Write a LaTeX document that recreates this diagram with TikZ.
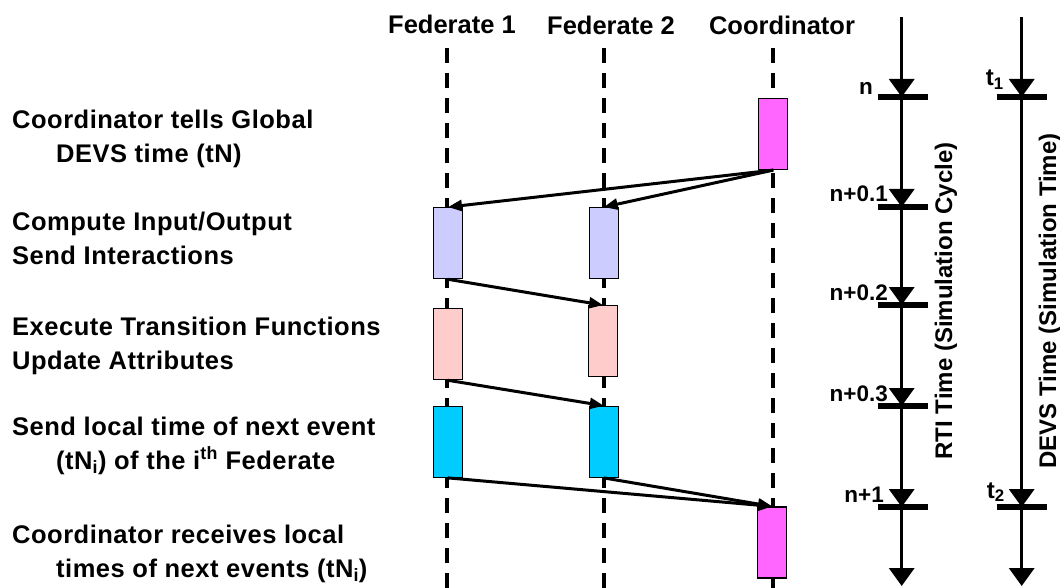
\documentclass[tikz,border=0pt]{standalone}
\usepackage{fontspec}
\setmainfont{Liberation Sans}
\newfontfamily\stepfont[LetterSpace=2.0]{Liberation Sans}
\usetikzlibrary{arrows.meta,positioning}

\definecolor{tellpink}{RGB}{255,102,255}
\definecolor{iolilac}{RGB}{204,204,255}
\definecolor{transrose}{RGB}{255,204,204}
\definecolor{nextcyan}{RGB}{0,204,255}

\tikzset{
  lifeline/.style={line width=4pt, dash pattern=on 15pt off 10pt},
  actbox/.style={draw, line width=1.2pt, minimum width=29pt, minimum height=71pt, inner sep=0pt},
  msg/.style={line width=3pt, -{Triangle[length=14pt,width=11pt]}},
  axisseg/.style={line width=3.5pt, -{Triangle[length=18pt,width=25pt]}},
  tickbar/.style={line width=5.5pt},
  steplabel/.style={anchor=base west, align=left, inner sep=0pt, font=\stepfont\bfseries\fontsize{25.5}{34}\selectfont},
  header/.style={anchor=base, inner sep=0pt, font=\bfseries\fontsize{25.5}{28}\selectfont},
  ticklabel/.style={anchor=base east, inner sep=0pt, font=\bfseries\fontsize{22.5}{24}\selectfont},
  axislabel/.style={anchor=base, rotate=90, inner sep=0pt, font=\bfseries\fontsize{24}{28}\selectfont}
}

\begin{document}
\begin{tikzpicture}[x=1pt,y=-1pt]
  \useasboundingbox (0,0) rectangle (1060,588);
  % Draw the column headers
  \node[header] (hdrfedA) at (452,34) {Federate 1};
  \node[header] (hdrfedB) at (611,35) {Federate 2};
  \node[header] (hdrcoord) at (782,35) {Coordinator};
  % Draw the dashed life lines
  \foreach \x/\n in {446.7/fedA, 603.7/fedB, 773/coord} {
    \coordinate (\n top) at (\x,48);
    \coordinate (\n bot) at (\x,588);
    \draw[lifeline] (\n top) -- (\n bot);
  }
  % Steps of one cycle
  \node[steplabel] (stepA) at (12,163) {Coordinator tells Global\\\hspace*{44pt}DEVS time (tN)};
  \node[steplabel] (stepB) at (12,265) {Compute Input/Output\\Send Interactions};
  \node[steplabel] (stepC) at (12,369) {Execute Transition Functions\\Update Attributes};
  \node[steplabel] (stepD) at (12,469) {Send local time of next event\\\hspace*{44pt}(tN\textsubscript{i}) of the i\textsuperscript{th} Federate};
  \node[steplabel] (stepE) at (12,577) {Coordinator receives local\\\hspace*{44pt}times of next events (tN\textsubscript{i})};
  % Draw the activation boxes
  \node[actbox, fill=tellpink] (tellbox) at (773.3,134) {};
  \node[actbox, fill=iolilac] (ioA) at (448,243.2) {};
  \node[actbox, fill=iolilac] (ioB) at (603.7,243.2) {};
  \node[actbox, fill=transrose] (trA) at (448,344.2) {};
  \node[actbox, fill=transrose] (trB) at (603,341.2) {};
  \node[actbox, fill=nextcyan] (tnA) at (448,441.8) {};
  \node[actbox, fill=nextcyan] (tnB) at (603.7,441.8) {};
  \node[actbox, fill=tellpink] (recvbox) at (772.2,542.5) {};
  % Draw the messages
  \draw[msg] (tellbox.south) -- (ioA.north);
  \draw[msg] (tellbox.south) -- (ioB.north);
  \draw[msg] (ioA.south) -- (trB.north);
  \draw[msg] (trA.south) -- (tnB.north);
  \draw[msg] (tnA.south) -- (recvbox.north);
  \draw[msg] (tnB.south) -- (recvbox.north);
  % RTI time axis
  \foreach \y/\n in {17/0, 97/1, 207/2, 305/3, 406/4, 507/5, 586/6}
    \coordinate (rti\n) at (901.7,\y);
  \foreach \a/\b in {0/1, 1/2, 2/3, 3/4, 4/5, 5/6}
    \draw[axisseg] (rti\a) -- (rti\b);
  \foreach \n in {1,...,5}
    \draw[tickbar] ([xshift=-24pt]rti\n) -- ([xshift=26.6pt]rti\n);
  \node[ticklabel] (lblnA) at (873,95) {n};
  \node[ticklabel] (lblnB) at (888,202) {n+0.1};
  \node[ticklabel] (lblnC) at (888,300) {n+0.2};
  \node[ticklabel] (lblnD) at (888,401) {n+0.3};
  \node[ticklabel] (lblnE) at (884,502) {n+1};
  \node[axislabel] (rtilabel) at (952,301) {RTI Time (Simulation Cycle)};
  % DEVS time axis
  \foreach \y/\n in {17/0, 97/1, 507/2, 586/3}
    \coordinate (devs\n) at (1021.7,\y);
  \foreach \a/\b in {0/1, 1/2, 2/3}
    \draw[axisseg] (devs\a) -- (devs\b);
  \foreach \n in {1,2}
    \draw[tickbar] ([xshift=-25pt]devs\n) -- ([xshift=25pt]devs\n);
  \node[ticklabel, font=\bfseries\fontsize{24}{26}\selectfont] (lbltA) at (1004,86) {t\textsubscript{1}};
  \node[ticklabel, font=\bfseries\fontsize{24}{26}\selectfont] (lbltB) at (1005,498) {t\textsubscript{2}};
  \node[axislabel] (devslabel) at (1056,301) {DEVS Time (Simulation Time)};
\end{tikzpicture}
\end{document}
